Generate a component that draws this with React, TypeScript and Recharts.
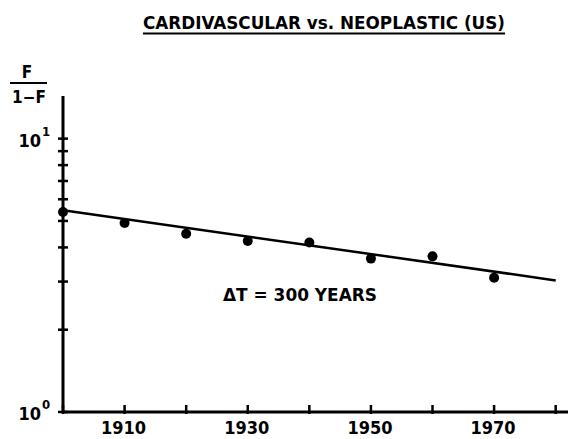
import React from "react";
import { ComposedChart, Scatter, Line, XAxis, YAxis } from "recharts";

const years = [1900, 1910, 1920, 1930, 1940, 1950, 1960, 1970];
const ratios = [5.39, 4.91, 4.49, 4.22, 4.17, 3.64, 3.71, 3.1];
const fitYears = [1900, 1980];
const fitRatios = [5.47, 3.03];
const xTicks = [1900, 1910, 1920, 1930, 1940, 1950, 1960, 1970, 1980];
const xLabelled = [1910, 1930, 1950, 1970];
const yTicks = [1, 2, 3, 4, 5, 6, 7, 8, 9, 10];
const yLabels: Record<number, string> = { 1: "0", 10: "1" };

const points = years.map((year, i) => ({ year, ratio: ratios[i] }));
const fit = fitYears.map((year, i) => ({ year, fit: fitRatios[i] }));

const FONT = "'Liberation Sans Narrow', 'DejaVu Sans Condensed', 'Arial Narrow', sans-serif";

const XTick = (props: any) => {
  const { x, y, payload } = props;
  const v = payload.value;
  return (
    <g>
      <line x1={x} x2={x} y1={y - 7} y2={y + 2} stroke="#000" strokeWidth={2.5} />
      {xLabelled.includes(v) && (
        <text x={x - 1} y={y + 22} textAnchor="middle" fontFamily={FONT} fontWeight="bold" fontSize={18} fill="#000">
          {v}
        </text>
      )}
    </g>
  );
};

const YTick = (props: any) => {
  const { x, y, payload } = props;
  const v = payload.value;
  const sup = yLabels[v];
  return (
    <g>
      <line x1={x - 5} x2={x + 5} y1={y} y2={y} stroke="#000" strokeWidth={2.5} />
      {sup !== undefined && (
        <g fontFamily={FONT} fontWeight="bold" fill="#000">
          <text x={x - 22} y={y + 8} textAnchor="end" fontSize={18}>10</text>
          <text x={x - 21} y={y - 3} textAnchor="start" fontSize={13}>{sup}</text>
        </g>
      )}
    </g>
  );
};

export default function App() {
  return (
    <div style={{ position: "absolute", left: 0, top: 0, width: 568, height: 439, background: "#fff" }}>
      <ComposedChart width={568} height={439} margin={{ top: 96, right: 0, left: 0, bottom: 0 }}>
        <XAxis
          type="number"
          dataKey="year"
          domain={[1900, 1982]}
          ticks={xTicks}
          height={27}
          tickSize={0}
          tickMargin={0}
          tickLine={false}
          axisLine={{ stroke: "#000", strokeWidth: 3 }}
          tick={<XTick />}
          interval={0}
        />
        <YAxis
          type="number"
          scale="log"
          domain={[1, 14.32]}
          ticks={yTicks}
          width={63}
          tickSize={0}
          tickMargin={0}
          tickLine={false}
          axisLine={{ stroke: "#000", strokeWidth: 3 }}
          tick={<YTick />}
          interval={0}
        />
        <Line
          data={fit}
          dataKey="fit"
          stroke="#000"
          strokeWidth={2.5}
          dot={false}
          activeDot={false}
          isAnimationActive={false}
          legendType="none"
        />
        <Scatter data={points} dataKey="ratio" fill="#000" shape={(p: any) => <circle cx={p.cx} cy={p.cy} r={5} fill="#000" />} isAnimationActive={false} />
      </ComposedChart>
      <svg width={568} height={439} style={{ position: "absolute", left: 0, top: 0, pointerEvents: "none" }}>
        <g fontFamily={FONT} fontWeight="bold" fill="#000">
          <text x={143} y={28.5} fontSize={17} textLength={362} lengthAdjust="spacingAndGlyphs">
            CARDIVASCULAR vs. NEOPLASTIC (US)
          </text>
          <line x1={143} x2={505} y1={33.5} y2={33.5} stroke="#000" strokeWidth={2} />
          <text x={27} y={78} textAnchor="middle" fontSize={17}>F</text>
          <line x1={10} x2={47} y1={83} y2={83} stroke="#000" strokeWidth={2} />
          <text x={29} y={103} textAnchor="middle" fontSize={17}>1−F</text>
          <text x={223} y={301} fontSize={18} textLength={154} lengthAdjust="spacingAndGlyphs">ΔT = 300 YEARS</text>
        </g>
      </svg>
    </div>
  );
}
